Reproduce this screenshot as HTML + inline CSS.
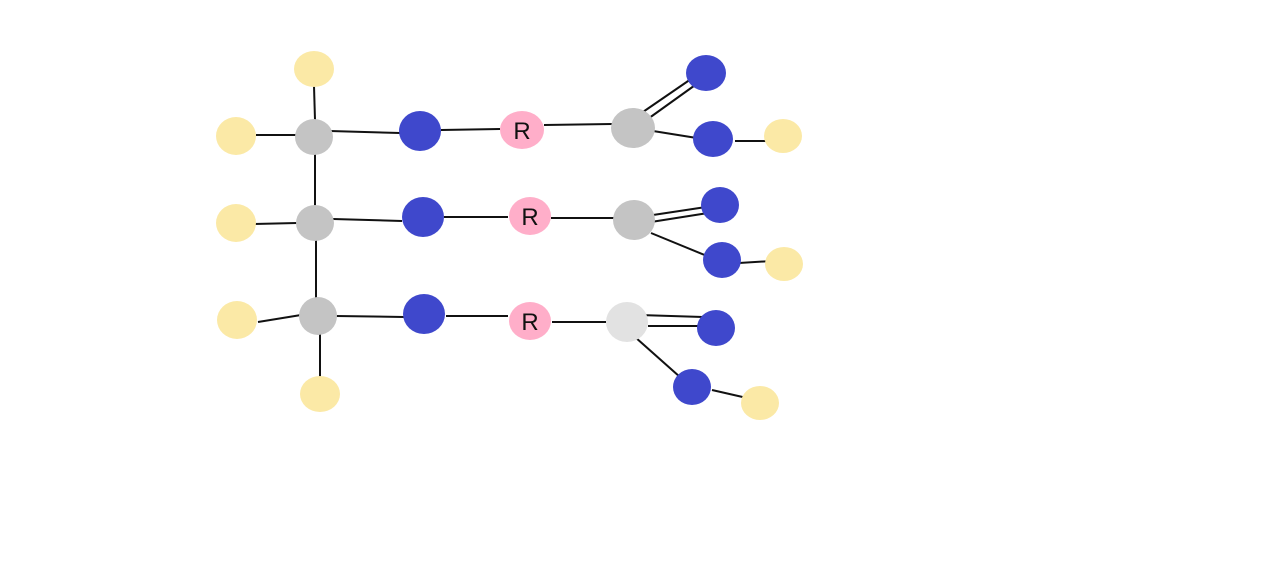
<!DOCTYPE html>
<html><head><style>html,body{margin:0;padding:0;background:#fff;width:1284px;height:588px;overflow:hidden}</style></head>
<body>
<svg width="1284" height="588" viewBox="0 0 1284 588" xmlns="http://www.w3.org/2000/svg">
<g stroke="#111" stroke-width="2" fill="none">
<line x1="314" y1="86" x2="315" y2="120"/>
<line x1="256" y1="135" x2="297" y2="135"/>
<line x1="330" y1="131" x2="400" y2="133"/>
<line x1="441" y1="130" x2="500" y2="129"/>
<line x1="544" y1="125" x2="612" y2="124"/>
<line x1="315" y1="154" x2="315" y2="206"/>
<line x1="316" y1="240" x2="316" y2="298"/>
<line x1="254" y1="224" x2="297" y2="223"/>
<line x1="333" y1="219" x2="402" y2="221"/>
<line x1="444" y1="217" x2="508" y2="217"/>
<line x1="551" y1="218" x2="614" y2="218"/>
<line x1="258" y1="322" x2="301" y2="315"/>
<line x1="336" y1="316" x2="404" y2="317"/>
<line x1="446" y1="316" x2="508" y2="316"/>
<line x1="552" y1="322" x2="606" y2="322"/>
<line x1="320" y1="334" x2="320" y2="377"/>
<line x1="640" y1="114" x2="691" y2="79"/>
<line x1="645" y1="121" x2="698" y2="83"/>
<line x1="653" y1="131" x2="703" y2="139"/>
<line x1="735" y1="141" x2="772" y2="141"/>
<line x1="653" y1="215" x2="706" y2="207"/>
<line x1="651" y1="222" x2="708" y2="213"/>
<line x1="651" y1="233" x2="707" y2="256"/>
<line x1="739" y1="263" x2="772" y2="261"/>
<line x1="639" y1="315" x2="703" y2="317"/>
<line x1="648" y1="326" x2="700" y2="326"/>
<line x1="635" y1="337" x2="680" y2="377"/>
<line x1="712" y1="390" x2="747" y2="398"/>
</g>
<g fill="#fbe9a6">
<ellipse cx="314" cy="69" rx="20" ry="18"/>
<ellipse cx="236" cy="136" rx="20" ry="19"/>
<ellipse cx="783" cy="136" rx="19" ry="17"/>
<ellipse cx="236" cy="223" rx="20" ry="19"/>
<ellipse cx="784" cy="264" rx="19" ry="17"/>
<ellipse cx="237" cy="320" rx="20" ry="19"/>
<ellipse cx="320" cy="394" rx="20" ry="18"/>
<ellipse cx="760" cy="403" rx="19" ry="17"/>
</g>
<g fill="#c4c4c4">
<ellipse cx="314" cy="137" rx="19" ry="18"/>
<ellipse cx="315" cy="223" rx="19" ry="18"/>
<ellipse cx="318" cy="316" rx="19" ry="19"/>
<ellipse cx="633" cy="128" rx="22" ry="20"/>
<ellipse cx="634" cy="220" rx="21" ry="20"/>
<ellipse cx="627" cy="322" rx="21" ry="20" fill="#e2e2e2"/>
</g>
<g fill="#3f48cc">
<ellipse cx="420" cy="131" rx="21" ry="20"/>
<ellipse cx="423" cy="217" rx="21" ry="20"/>
<ellipse cx="424" cy="314" rx="21" ry="20"/>
<ellipse cx="706" cy="73" rx="20" ry="18"/>
<ellipse cx="713" cy="139" rx="20" ry="18"/>
<ellipse cx="720" cy="205" rx="19" ry="18"/>
<ellipse cx="722" cy="260" rx="19" ry="18"/>
<ellipse cx="716" cy="328" rx="19" ry="18"/>
<ellipse cx="692" cy="387" rx="19" ry="18"/>
</g>
<g fill="#ffaec9">
<ellipse cx="522" cy="130" rx="22" ry="19"/>
<ellipse cx="530" cy="216" rx="21" ry="19"/>
<ellipse cx="530" cy="321" rx="21" ry="19"/>
</g>
<g font-family="Liberation Sans, sans-serif" font-size="24" fill="#111" text-anchor="middle">
<text x="522" y="139">R</text>
<text x="530" y="225">R</text>
<text x="530" y="330">R</text>
</g>
</svg>
</body></html>
